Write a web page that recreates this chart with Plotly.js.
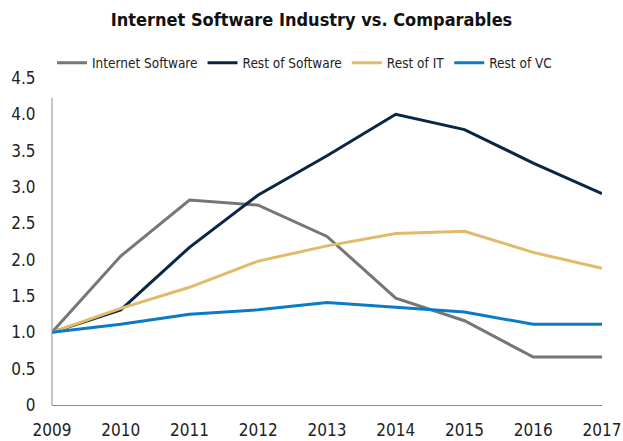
<!DOCTYPE html>
<html><head><meta charset="utf-8">
<script src="https://cdn.plot.ly/plotly-3.0.1.min.js"></script>
<style>body{margin:0;background:#fff}#c{width:623px;height:441px}</style>
</head><body><div id="c"></div>
<script>
const years = [2009, 2010, 2011, 2012, 2013, 2014, 2015, 2016, 2017];
const internetSoftware = [1.0, 2.05, 2.82, 2.75, 2.32, 1.47, 1.16, 0.66, 0.66];
const restOfSoftware   = [1.0, 1.31, 2.17, 2.89, 3.43, 4.0, 3.79, 3.33, 2.91];
const restOfIT         = [1.0, 1.33, 1.62, 1.98, 2.19, 2.36, 2.39, 2.10, 1.88];
const restOfVC         = [1.0, 1.11, 1.25, 1.31, 1.41, 1.34, 1.28, 1.11, 1.11];
const seriesNames = ['Internet Software', 'Rest of Software', 'Rest of IT', 'Rest of VC'];
const yTickVals = [0, 0.5, 1, 1.5, 2, 2.5, 3, 3.5, 4, 4.5];
const yTickText = ['0', '0.5', '1.0', '1.5', '2.0', '2.5', '3.0', '3.5', '4.0', '4.5'];

const FONT = '"DejaVu Sans Condensed", "Liberation Sans Narrow", sans-serif';
const colors = ['#767676', '#0b2545', '#dfbb6a', '#0a7cc7'];
const data = [internetSoftware, restOfSoftware, restOfIT, restOfVC].map((v, i) => ({
  x: years, y: v, name: seriesNames[i], type: 'scatter', mode: 'lines',
  line: {color: colors[i], width: 3}
}));

const layout = {
  width: 623, height: 441,
  margin: {l: 52, r: 21, t: 78, b: 36},
  paper_bgcolor: '#fff', plot_bgcolor: '#fff',
  font: {family: FONT, color: '#222', size: 17},
  title: {text: '<b>Internet Software Industry vs. Comparables</b>', x: 0.5, xanchor: 'center',
          y: 1 - 20 / 441, yanchor: 'middle',
          font: {family: FONT, size: 18, color: '#111'}},
  showlegend: true,
  legend: {orientation: 'h', x: 0.0, y: 1 + 15 / 327, xanchor: 'left', yanchor: 'middle',
           font: {family: FONT, size: 13.5, color: '#222'}, itemwidth: 30, tracegroupgap: 0},
  xaxis: {range: [2009, 2017], tickvals: years, ticks: 'outside', ticklen: 10, tickcolor: 'rgba(0,0,0,0)',
          showgrid: false, zeroline: false,
          showline: true, linecolor: '#8c8c8c', linewidth: 1, fixedrange: true,
          tickfont: {family: FONT, size: 17, color: '#222'}},
  yaxis: {range: [0, 4.5], tickvals: yTickVals, ticktext: yTickText, ticks: 'outside', ticklen: 12, tickcolor: 'rgba(0,0,0,0)',
          showgrid: false, zeroline: false, showline: false, fixedrange: true,
          tickfont: {family: FONT, size: 17, color: '#222'}},
  shapes: [{type: 'line', xref: 'paper', yref: 'y', x0: 0, x1: 0, y0: 0, y1: 4.23,
            line: {color: '#8c8c8c', width: 1}}]
};
Plotly.newPlot('c', data, layout, {displayModeBar: false, staticPlot: true});
</script></body></html>
